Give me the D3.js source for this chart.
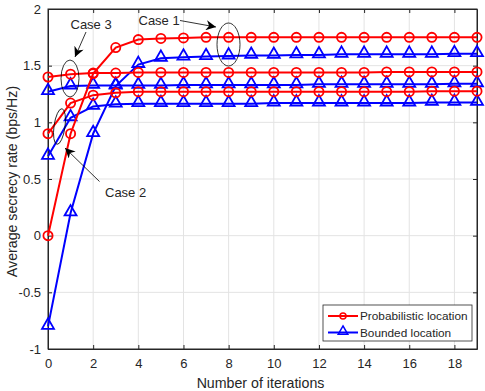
<!DOCTYPE html>
<html lang="en">
<head>
<meta charset="utf-8">
<script src="https://cdnjs.cloudflare.com/ajax/libs/d3/7.8.5/d3.min.js"></script>
<style>
    body { margin: 0; background: #fff; }
    svg text { font-family: "Liberation Sans", Arial, sans-serif; fill: #262626; }
    .grid line { stroke: #e3e3e3; stroke-width: 1; }
    .axis path, .axis line { stroke: #262626; }
    .axis text { font-size: 13px; }
</style>
</head>
<body>
<svg id="chart"></svg>
<script>
    // iterations 0..19
    const iterations = d3.range(0, 20);
    const xTicks = [0, 2, 4, 6, 8, 10, 12, 14, 16, 18];
    const yTicks = [-1, -0.5, 0, 0.5, 1, 1.5, 2];
    const yTickLabels = ["-1", "-0.5", "0", "0.5", "1", "1.5", "2"];

    // Probabilistic location (red)
    const probCase1 = [0, 0.9, 1.43, 1.66, 1.73, 1.74, 1.745, 1.75, 1.75, 1.75, 1.75, 1.75, 1.75, 1.75, 1.75, 1.75, 1.75, 1.75, 1.75, 1.75];
    const probCase2 = [0.9, 1.17, 1.24, 1.26, 1.27, 1.27, 1.27, 1.27, 1.27, 1.27, 1.27, 1.27, 1.27, 1.27, 1.27, 1.27, 1.27, 1.275, 1.275, 1.275];
    const probCase3 = [1.40, 1.425, 1.435, 1.435, 1.44, 1.44, 1.44, 1.44, 1.44, 1.44, 1.44, 1.44, 1.44, 1.44, 1.44, 1.445, 1.445, 1.445, 1.445, 1.445];
    // Bounded location (blue)
    const bndCase1 = [-0.8, 0.2, 0.9, 1.32, 1.51, 1.565, 1.575, 1.58, 1.585, 1.59, 1.59, 1.595, 1.595, 1.6, 1.6, 1.6, 1.6, 1.6, 1.605, 1.605];
    const bndCase2 = [0.7, 1.04, 1.14, 1.16, 1.165, 1.165, 1.165, 1.165, 1.165, 1.165, 1.17, 1.17, 1.17, 1.17, 1.17, 1.17, 1.17, 1.175, 1.175, 1.175];
    const bndCase3 = [1.27, 1.32, 1.325, 1.325, 1.325, 1.325, 1.33, 1.33, 1.33, 1.33, 1.33, 1.33, 1.335, 1.335, 1.335, 1.335, 1.335, 1.335, 1.34, 1.34];

    const legendLabels = ["Probabilistic location", "Bounded location"];

    const W = 485, H = 391;
    const margin = {top: 9, right: 8, bottom: 42, left: 48};
    const width = W - margin.left - margin.right,
          height = H - margin.top - margin.bottom;

    const svg = d3.select("#chart").attr("width", W).attr("height", H);
    const g = svg.append("g").attr("transform", "translate(" + margin.left + "," + margin.top + ")");

    const x = d3.scaleLinear().domain([0, 19]).range([0, width]);
    const y = d3.scaleLinear().domain([-1, 2]).range([height, 0]);

    // grid
    g.append("g").attr("class", "grid")
        .selectAll("line").data(xTicks.slice(1)).enter().append("line")
        .attr("x1", d => x(d)).attr("x2", d => x(d)).attr("y1", 0).attr("y2", height);
    g.append("g").attr("class", "grid")
        .selectAll("line").data(yTicks.slice(1, -1)).enter().append("line")
        .attr("y1", d => y(d)).attr("y2", d => y(d)).attr("x1", 0).attr("x2", width);

    // axes (ticks inward, box)
    g.append("g").attr("class", "axis")
        .attr("transform", "translate(0," + height + ")")
        .call(d3.axisBottom(x).tickValues(xTicks).tickSizeInner(-4).tickSizeOuter(0).tickPadding(8))
        .selectAll("text").attr("dy", "0.85em");
    g.append("g").attr("class", "axis")
        .call(d3.axisLeft(y).tickValues(yTicks).tickFormat((d, i) => yTickLabels[i]).tickSizeInner(-4).tickSizeOuter(0).tickPadding(7));
    g.append("g").attr("class", "axis")
        .call(d3.axisTop(x).tickValues(xTicks).tickSizeInner(-4).tickSizeOuter(0).tickFormat(""));
    g.append("g").attr("class", "axis")
        .attr("transform", "translate(" + width + ",0)")
        .call(d3.axisRight(y).tickValues(yTicks).tickSizeInner(-4).tickSizeOuter(0).tickFormat(""));
    g.append("rect").attr("width", width).attr("height", height)
        .attr("fill", "none").attr("stroke", "#262626").attr("stroke-width", 1);

    const line = d3.line().x((d, i) => x(iterations[i])).y(d => y(d));
    const tri = d3.symbol().type(d3.symbolTriangle).size(62);

    function drawSeries(data, color, marker) {
        g.append("path").datum(data)
            .attr("fill", "none").attr("stroke", color).attr("stroke-width", 2)
            .attr("d", line);
        if (marker === "circle") {
            g.selectAll(null).data(data).enter().append("circle")
                .attr("cx", (d, i) => x(iterations[i])).attr("cy", d => y(d)).attr("r", 4.6)
                .attr("fill", "none").attr("stroke", color).attr("stroke-width", 1.8);
        } else {
            g.selectAll(null).data(data).enter().append("path")
                .attr("transform", (d, i) => "translate(" + x(iterations[i]) + "," + (y(d) - 1) + ")")
                .attr("d", tri)
                .attr("fill", "none").attr("stroke", color).attr("stroke-width", 1.8);
        }
    }

    [bndCase1, bndCase2, bndCase3].forEach(s => drawSeries(s, "#0000ff", "triangle"));
    [probCase1, probCase2, probCase3].forEach(s => drawSeries(s, "#ff0000", "circle"));

    // annotations
    svg.append("defs").append("marker")
        .attr("id", "ah").attr("viewBox", "0 0 10 10").attr("refX", 10).attr("refY", 5)
        .attr("markerWidth", 14).attr("markerHeight", 10).attr("markerUnits", "userSpaceOnUse")
        .attr("orient", "auto")
        .append("path").attr("d", "M0,0 L10,5 L0,10 L3,5 Z").attr("fill", "#000");

    const ann = svg.append("g");
    function ellipse(cx, cy, rx, ry, rot) {
        ann.append("ellipse").attr("cx", cx).attr("cy", cy).attr("rx", rx).attr("ry", ry)
            .attr("transform", "rotate(" + rot + "," + cx + "," + cy + ")")
            .attr("fill", "none").attr("stroke", "#000").attr("stroke-width", 0.8);
    }
    function arrow(x1, y1, x2, y2) {
        ann.append("line").attr("x1", x1).attr("y1", y1).attr("x2", x2).attr("y2", y2)
            .attr("stroke", "#000").attr("stroke-width", 0.8).attr("marker-end", "url(#ah)");
    }
    function label(tx, ty, s) {
        ann.append("text").attr("x", tx).attr("y", ty).attr("font-size", 13).attr("fill", "#000").text(s);
    }

    ellipse(228.5, 44.5, 11.5, 21.5, 0);
    arrow(180, 20.5, 216, 27);
    label(138.5, 25, "Case 1");

    ellipse(70, 78.5, 9, 18.5, 0);
    arrow(86, 32, 75, 57);
    label(70.5, 29, "Case 3");

    ellipse(59.5, 126.5, 5.5, 18, 8);
    arrow(99.5, 181.5, 65, 148);
    label(105, 197, "Case 2");

    // legend
    const lg = svg.append("g").attr("transform", "translate(323,305)");
    lg.append("rect").attr("width", 149).attr("height", 36)
        .attr("fill", "#fff").attr("stroke", "#262626").attr("stroke-width", 0.8);
    [["#ff0000", "circle"], ["#0000ff", "triangle"]].forEach((c, i) => {
        const yy = 11 + i * 16.5;
        lg.append("line").attr("x1", 5).attr("x2", 35).attr("y1", yy).attr("y2", yy)
            .attr("stroke", c[0]).attr("stroke-width", 2);
        if (c[1] === "circle") {
            lg.append("circle").attr("cx", 20).attr("cy", yy).attr("r", 3)
                .attr("fill", "none").attr("stroke", c[0]).attr("stroke-width", 1.5);
        } else {
            lg.append("path").attr("transform", "translate(20," + (yy - 1) + ")")
                .attr("d", d3.symbol().type(d3.symbolTriangle).size(40))
                .attr("fill", "none").attr("stroke", c[0]).attr("stroke-width", 1.5);
        }
        lg.append("text").attr("x", 37).attr("y", yy + 4).attr("font-size", 11.8)
            .attr("fill", "#000").text(legendLabels[i]);
    });

    // axis titles
    svg.append("text").attr("x", margin.left + width / 2 - 2).attr("y", 388)
        .attr("text-anchor", "middle").attr("font-size", 14.2).text("Number of iterations");
    svg.append("text").attr("transform", "translate(17,181.5) rotate(-90)")
        .attr("text-anchor", "middle").attr("font-size", 14.2).text("Average secrecy rate (bps/Hz)");
</script>
</body>
</html>
